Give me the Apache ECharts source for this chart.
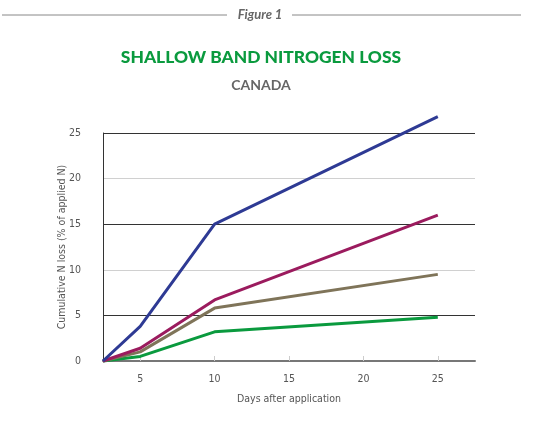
<!DOCTYPE html>
<html>
<head>
<meta charset="utf-8">
<script src="https://cdn.jsdelivr.net/npm/echarts@6/dist/echarts.min.js"></script>
<style>
html,body{margin:0;padding:0;background:#fff;}
#c{width:535px;height:434px;}
</style>
</head>
<body>
<div id="c"></div>
<script>
const days = [2.5, 5, 10, 25];
const seriesBlue = [0, 3.8, 15.0, 26.8];
const seriesMagenta = [0, 1.4, 6.7, 16.0];
const seriesBrown = [0, 1.0, 5.8, 9.5];
const seriesGreen = [0, 0.5, 3.2, 4.8];
const seriesNames = ['Series A', 'Series B', 'Series C', 'Series D'];
const seriesColors = ['#2e3a94', '#9b1b5e', '#7f7459', '#0a9a3e'];

const font = '"Liberation Sans Narrow", "DejaVu Sans Condensed", sans-serif';
const allData = [seriesBlue, seriesMagenta, seriesBrown, seriesGreen];

const chart = echarts.init(document.getElementById('c'));
chart.setOption({
  backgroundColor: '#fff',
  animation: false,
  graphic: [
    {type: 'line', shape: {x1: 2, y1: 15, x2: 227, y2: 15}, style: {stroke: '#888', lineWidth: 1}},
    {type: 'line', shape: {x1: 292, y1: 15, x2: 521, y2: 15}, style: {stroke: '#888', lineWidth: 1}},
    {type: 'text', style: {text: 'Figure 1', font: 'italic bold 13px Lato', fill: '#666', textAlign: 'center', textVerticalAlign: 'middle'}, x: 260, y: 15},
    {type: 'text', style: {text: 'SHALLOW BAND NITROGEN LOSS', font: '900 17.4px Lato', fill: '#0a9a3e', textAlign: 'center', textVerticalAlign: 'middle'}, x: 261, y: 57},
    {type: 'text', style: {text: 'CANADA', font: 'bold 14px Lato', fill: '#666', textAlign: 'center', textVerticalAlign: 'middle'}, x: 261, y: 85}
  ],
  grid: {left: 103, right: 60, top: 133, bottom: 73},
  xAxis: {
    type: 'value', min: 2.5, max: 27.5,
    axisLine: {show: true, lineStyle: {color: '#777', width: 2}},
    axisTick: {show: true, inside: true, length: 5, lineStyle: {color: '#ccc'}, customValues: [5, 10, 15, 20, 25]},
    axisLabel: {color: '#555', fontFamily: font, fontSize: 10.5, margin: 13, customValues: [5, 10, 15, 20, 25]},
    splitLine: {show: false},
    name: 'Days after application', nameLocation: 'middle', nameGap: 33,
    nameMoveOverlap: false,
    nameTextStyle: {color: '#555', fontFamily: font, fontSize: 10.5}
  },
  yAxis: {
    type: 'value', min: 0, max: 25, interval: 5,
    axisLine: {show: true, lineStyle: {color: '#333', width: 1}},
    axisTick: {show: false},
    axisLabel: {color: '#555', fontFamily: font, fontSize: 10.5, margin: 22},
    splitLine: {show: true, lineStyle: {color: ['#d0d0d0', '#333'], width: 1}},
    name: 'Cumulative N loss (% of applied N)', nameLocation: 'middle', nameGap: 35,
    nameMoveOverlap: false,
    nameTextStyle: {color: '#555', fontFamily: font, fontSize: 10.5}
  },
  series: allData.map((d, i) => ({
    type: 'line', name: seriesNames[i],
    data: days.map((x, j) => [x, d[j]]),
    symbol: 'none',
    clip: false,
    lineStyle: {color: seriesColors[i], width: 3},
    z: 10 - i
  }))
});
</script>
</body>
</html>
